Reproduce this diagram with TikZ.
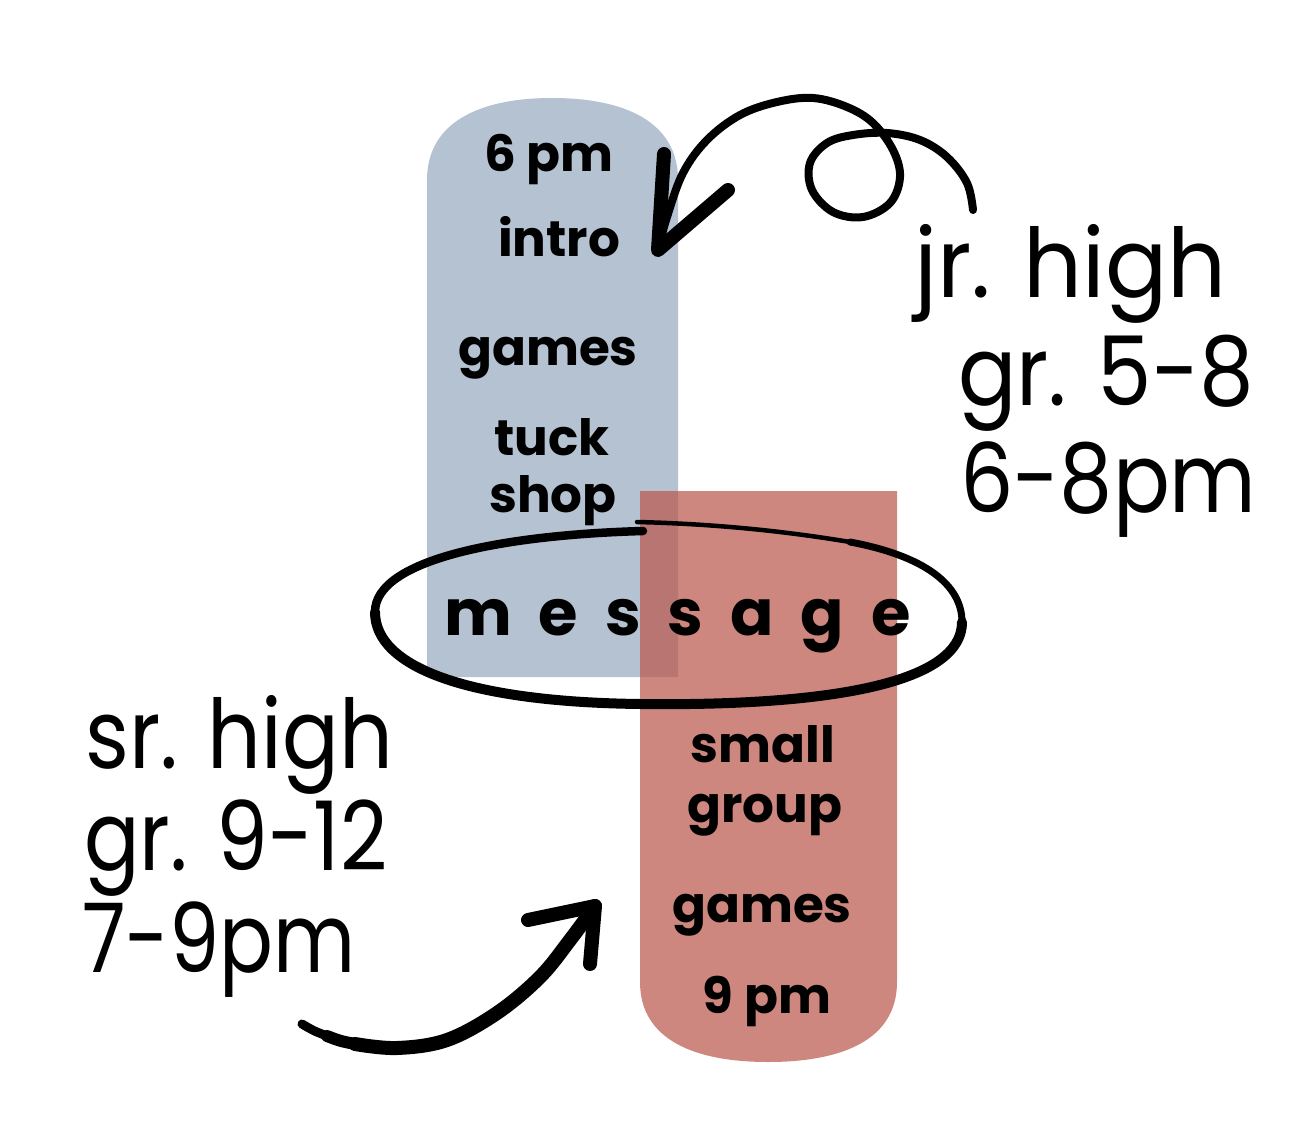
\documentclass[tikz,border=0pt]{standalone}
\usepackage{fontspec}
\setmainfont{Poppins}
\usetikzlibrary{positioning}
\definecolor{jrblue}{RGB}{181,194,209}
\definecolor{srred}{RGB}{186,85,74}

\begin{document}
\begin{tikzpicture}[x=1pt,y=-1pt,
    slot/.style={anchor=base, inner sep=0pt, font=\fontsize{50}{56}\selectfont\bfseries},
    big/.style={anchor=base west, inner sep=0pt, font=\fontsize{96}{100}\selectfont},
    brush/.style={line width=10pt, line cap=round, line join=round}]
  \useasboundingbox[fill=white] (0,0) rectangle (1310,1134);
  % the two bars
  \fill[jrblue] (427,677) -- (427,180) .. controls (427,122) and (480,98) .. (552,98)
    .. controls (625,98) and (678,122) .. (678,180) -- (678,677) -- cycle;
  \fill[srred, opacity=0.7] (640,491) -- (640,982) .. controls (640,1040) and (695,1062) .. (768,1062)
    .. controls (842,1062) and (897,1040) .. (897,982) -- (897,491) -- cycle;
  % ring round the message
  \draw[brush, line width=4.5pt] (637,522) .. controls (720,524) and (790,532) .. (850,542);
  \draw[brush, line width=7pt] (850,542) .. controls (925,556) and (962,585) .. (962,622);
  \draw[brush] (962,622) .. controls (962,690) and (800,706) .. (640,704)
    .. controls (470,702) and (375,668) .. (375,612);
  \draw[brush, line width=8.5pt] (375,612) .. controls (375,560) and (500,535) .. (643,531);
  \node[anchor=base west, inner sep=0pt,
        font=\fontsize{64}{70}\selectfont\bfseries\addfontfeatures{LetterSpace=42}]
        (msg) at (444,635) {message};
  % schedule in the bars
  \foreach \nm/\x/\y/\txt in {six/549/172/{6 pm}, intro/559/257/intro, jrgames/548/365/games,
      tuck/552/455/tuck, shop/553/512/shop, small/763/762/small, group/765/822/group,
      srgames/762/922/games, nine/767/1013/{9 pm}} {
    \node[slot] (\nm) at (\x,\y) {\txt};
  }
  % groups
  \node[big] (jr) at (914,298) {\scalebox{0.96}[1]{jr. high}};
  \node[big] (jrgr) at (958,405) {\scalebox{0.9}[1]{gr. 5-8}};
  \node[big] (jrtime) at (960,512) {\scalebox{0.876}[1]{6-8pm}};
  \node[big] (sr) at (85,768) {\scalebox{0.875}[1]{sr. high}};
  \node[big] (srgr) at (84,870) {\scalebox{0.856}[1]{gr. 9-12}};
  \node[big] (srtime) at (82,972) {\scalebox{0.83}[1]{7-9pm}};
  % hand drawn arrows
  \coordinate (jrtail) at (973,210);
  \coordinate (jrtip) at (658,250);
  \draw[brush, line width=8pt] plot[smooth, tension=0.6] coordinates {(jrtail) (967,183) (947,157)
    (920,140) (887,133) (853,135) (827,143) (810,163) (812,190) (833,212) (863,217) (890,203)
    (900,177) (893,150) (873,123) (847,107) (813,98) (777,102) (740,115) (707,140) (683,173)
    (667,217) (jrtip)};
  \draw[brush, line width=14pt] (664,154) -- (jrtip) -- (728,190);
  \coordinate (srtail) at (302,1024);
  \coordinate (srtip) at (595,906);
  \draw[brush, line width=9pt] (srtail) .. controls (314,1031) .. (327,1036);
  \draw[brush, line width=12pt] (327,1036) .. controls (340,1041) .. (355,1044);
  \draw[brush, line width=14pt] plot[smooth, tension=0.6] coordinates {(355,1044) (397,1048)
    (447,1040) (497,1013) (540,977) (570,940) (srtip)};
  \draw[brush, line width=14pt] (528,920) -- (srtip) -- (590,964);
\end{tikzpicture}
\end{document}
